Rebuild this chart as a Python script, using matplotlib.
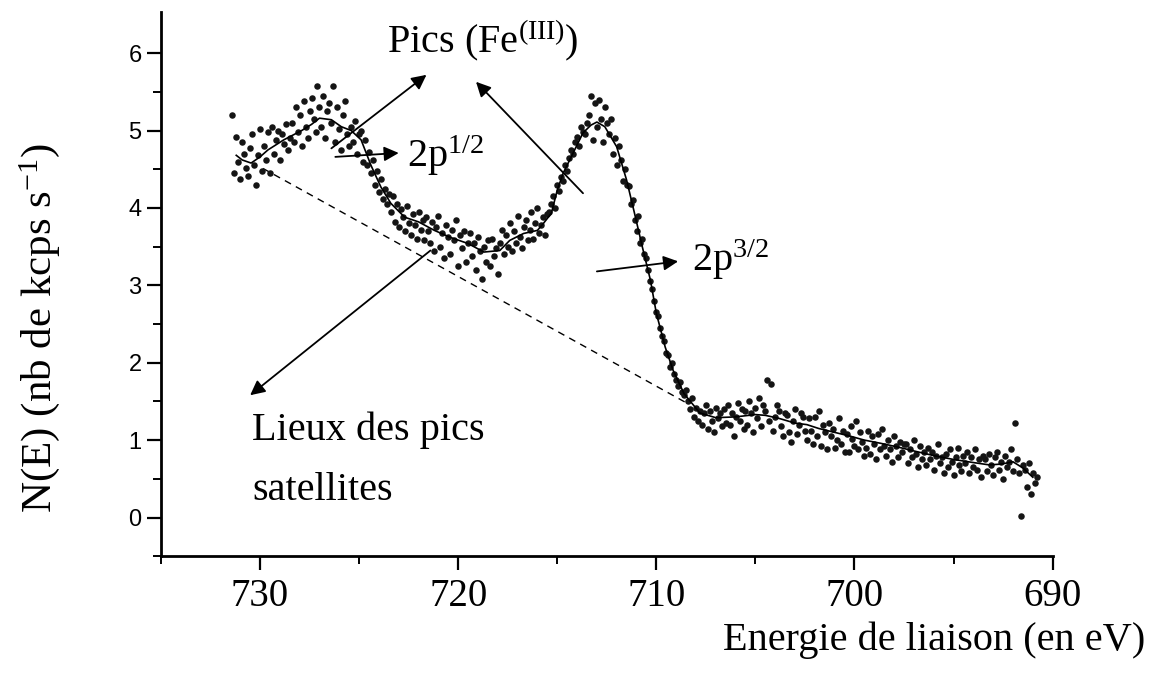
import numpy as np
import matplotlib
matplotlib.use("Agg")
import matplotlib.pyplot as plt

plt.rcParams['font.family'] = ['Liberation Serif', 'DejaVu Serif']
plt.rcParams['mathtext.default'] = 'regular'

# binding energy grid of the raw spectrum (0.1 eV step)
energy = np.round(np.linspace(731.4, 690.8, 407), 1)

# raw counts, 10 points per eV
counts = [
    5.20, 4.45, 4.92, 4.60, 4.38, 4.85, 4.70, 4.52, 4.41, 4.78,
    4.95, 4.55, 4.30, 4.68, 5.02, 4.48, 4.80, 4.62, 4.98, 4.45,
    5.05, 4.70, 4.88, 5.00, 4.62, 4.95, 4.82, 5.08, 4.75, 4.90,
    5.10, 4.85, 5.30, 4.98, 5.20, 4.80, 5.38, 5.05, 4.90, 5.25,
    5.42, 5.15, 4.98, 5.58, 5.30, 5.05, 5.45, 4.90, 5.25, 5.35,
    5.10, 5.57, 4.85, 5.30, 5.02, 4.75, 5.20, 5.38, 4.95, 4.80,
    5.05, 4.85, 5.12, 4.70, 4.95, 5.00, 4.60, 4.88, 4.55, 4.72,
    4.45, 4.62, 4.30, 4.48, 4.20, 4.38, 4.12, 4.25, 4.05, 4.18,
    3.95, 4.15, 3.82, 4.05, 3.75, 3.98, 3.88, 3.70, 4.02, 3.80,
    3.65, 3.92, 3.78, 3.60, 3.95, 3.72, 3.85, 3.58, 3.88, 3.70,
    3.55, 3.82, 3.45, 3.75, 3.90, 3.50, 3.68, 3.35, 3.78, 3.62,
    3.40, 3.72, 3.58, 3.85, 3.25, 3.65, 3.48, 3.70, 3.30, 3.55,
    3.68, 3.38, 3.55, 3.20, 3.62, 3.45, 3.08, 3.50, 3.30, 3.58,
    3.25, 3.60, 3.38, 3.48, 3.15, 3.55, 3.72, 3.40, 3.65, 3.50,
    3.80, 3.45, 3.70, 3.55, 3.90, 3.62, 3.48, 3.75, 3.85, 3.58,
    3.72, 3.95, 3.60, 3.80, 4.00, 3.68, 3.78, 3.88, 3.65, 3.92,
    3.95, 4.05, 4.15, 4.00, 4.30, 4.22, 4.40, 4.35, 4.55, 4.48,
    4.65, 4.75, 4.70, 4.85, 4.92, 4.80, 5.05, 4.98, 4.95, 5.10,
    5.20, 5.45, 4.88, 5.35, 5.05, 5.40, 5.15, 4.85, 5.30, 5.10,
    4.95, 5.15, 4.70, 4.90, 4.55, 4.80, 4.62, 4.35, 4.50, 4.30,
    4.28, 4.05, 4.10, 3.85, 3.70, 3.90, 3.55, 3.60, 3.40, 3.35,
    3.20, 3.05, 2.95, 2.80, 2.65, 2.60, 2.45, 2.35, 2.28, 2.12,
    2.10, 1.95, 2.00, 1.85, 1.78, 1.70, 1.75, 1.62, 1.58, 1.65,
    1.50, 1.40, 1.55, 1.30, 1.42, 1.25, 1.38, 1.20, 1.35, 1.45,
    1.15, 1.38, 1.25, 1.10, 1.42, 1.28, 1.35, 1.18, 1.40, 1.22,
    1.45, 1.20, 1.35, 1.05, 1.30, 1.48, 1.25, 1.40, 1.15, 1.38,
    1.20, 1.50, 1.35, 1.10, 1.42, 1.28, 1.55, 1.18, 1.45, 1.38,
    1.78, 1.25, 1.72, 1.12, 1.30, 1.45, 1.38, 1.18, 1.05, 1.35,
    1.32, 1.10, 0.98, 1.25, 1.40, 1.08, 1.20, 1.35, 1.30, 1.12,
    1.00, 1.28, 1.12, 0.95, 1.30, 1.05, 1.38, 0.92, 1.20, 1.10,
    0.88, 1.22, 1.05, 1.15, 0.90, 1.00, 1.28, 0.95, 1.12, 0.85,
    1.08, 0.85, 1.18, 1.02, 0.92, 1.25, 0.88, 1.10, 0.98, 0.80,
    0.90, 1.12, 0.82, 1.05, 0.95, 0.75, 1.08, 0.88, 1.15, 0.92,
    0.80, 1.00, 0.88, 0.72, 1.05, 0.92, 0.78, 0.98, 0.85, 0.95,
    0.95, 0.70, 0.88, 0.78, 1.00, 0.82, 0.65, 0.92, 0.75, 0.85,
    0.68, 0.90, 0.75, 0.85, 0.62, 0.80, 0.95, 0.70, 0.78, 0.58,
    0.82, 0.65, 0.88, 0.72, 0.55, 0.78, 0.90, 0.68, 0.60, 0.80,
    0.70, 0.85, 0.58, 0.78, 0.65, 0.88, 0.62, 0.75, 0.52, 0.80,
    0.75, 0.60, 0.82, 0.68, 0.55, 0.78, 0.85, 0.62, 0.72, 0.50,
    0.80, 0.65, 0.72, 0.88, 0.60, 1.22, 0.75, 0.58, 0.02, 0.68,
    0.62, 0.40, 0.70, 0.30, 0.58, 0.45, 0.52,
]

# smoothed spectrum
fit_e = [731.2, 730.9, 730.45, 730.0, 729.6, 728.8, 727.9, 727.4, 727.0, 726.4,
         725.9, 725.4, 724.9, 724.4, 723.9, 723.4, 722.7, 722.0, 721.2, 720.4,
         719.5, 718.7, 717.9, 717.4, 716.7, 716.0, 715.7, 715.3, 715.0, 714.7,
         714.2, 713.7, 713.3, 713.0, 712.6, 712.0, 711.5, 711.1, 710.7, 710.3,
         710.0, 709.55, 709.15, 708.6, 707.8, 707.0, 706.0, 705.0, 704.5, 703.8,
         703.0, 702.4, 701.8, 701.0, 700.2, 699.5, 698.7, 697.8, 697.0, 696.0,
         695.0, 694.0, 693.2, 692.6, 692.0, 691.5, 691.0]
fit_n = [4.68, 4.62, 4.58, 4.66, 4.75, 4.88, 5.00, 5.08, 5.16, 5.14,
         5.05, 5.00, 4.88, 4.55, 4.27, 4.06, 3.88, 3.82, 3.71, 3.62,
         3.54, 3.43, 3.45, 3.58, 3.67, 3.71, 3.80, 3.93, 4.23, 4.45,
         4.71, 4.97, 5.07, 5.11, 5.05, 4.79, 4.36, 3.93, 3.49, 3.07,
         2.64, 2.20, 1.90, 1.60, 1.35, 1.29, 1.30, 1.33, 1.32, 1.28,
         1.22, 1.20, 1.15, 1.10, 1.05, 1.00, 0.96, 0.91, 0.86, 0.80,
         0.75, 0.71, 0.68, 0.69, 0.72, 0.64, 0.52]

# background (dashed)
bg_e = [729.85, 708.4]
bg_n = [4.51, 1.47]

fig = plt.figure(figsize=(11.58, 6.75), dpi=100)
ax = fig.add_axes([0.139, 0.176, 0.770, 0.806])

ax.scatter(energy, counts, s=22, color='#151515', lw=0, zorder=3)
ax.plot(fit_e, fit_n, color='black', lw=1.2, zorder=4)
ax.plot(bg_e, bg_n, color='black', lw=1.0, linestyle=(0, (5, 4)))

ax.set_xlim(735, 690)
ax.set_ylim(-0.5, 6.53)

for s in ['top', 'right']:
    ax.spines[s].set_visible(False)
for s in ['left', 'bottom']:
    ax.spines[s].set_linewidth(2.0)

ax.set_xticks([730, 720, 710, 700, 690])
ax.set_xticks([735, 725, 715, 705, 695], minor=True)
ax.set_yticks(range(0, 7))
ax.set_yticks(np.arange(-0.5, 6.5, 1.0), minor=True)
ax.tick_params(which='major', direction='out', length=10, width=1.6)
ax.tick_params(which='minor', direction='out', length=6, width=1.4)
ax.tick_params(axis='x', labelsize=28, pad=6)
ax.tick_params(axis='y', labelsize=17, pad=4)
for lab in ax.get_yticklabels():
    lab.set_fontfamily('Liberation Sans')

fig.text(40 / 1158, 1 - 328 / 675, r'N(E) (nb de kcps s$^{-1}$)', rotation=90,
         ha='center', va='center', fontsize=31)
fig.text(1145 / 1158, 1 - 640 / 675, 'Energie de liaison (en eV)',
         ha='right', va='center', fontsize=29)

arrow = dict(arrowstyle='-|>', color='black', lw=1.3, mutation_scale=22,
             shrinkA=0, shrinkB=0)

ax.text(723.6, 6.0, r'Pics (Fe$^{(III)}$)', fontsize=29, ha='left', va='baseline')
ax.annotate('', xy=(721.6, 5.72), xytext=(726.4, 4.77), arrowprops=arrow)
ax.annotate('', xy=(719.1, 5.63), xytext=(713.7, 4.19), arrowprops=arrow)

ax.text(722.6, 4.53, r'2p$^{1/2}$', fontsize=29, ha='left', va='baseline')
ax.annotate('', xy=(723.0, 4.71), xytext=(726.2, 4.66), arrowprops=arrow)

ax.text(708.2, 3.18, r'2p$^{3/2}$', fontsize=29, ha='left', va='baseline')
ax.annotate('', xy=(708.9, 3.31), xytext=(713.0, 3.18), arrowprops=arrow)

ax.text(730.4, 1.0, 'Lieux des pics', fontsize=29, ha='left', va='baseline')
ax.text(730.4, 0.22, 'satellites', fontsize=29, ha='left', va='baseline')
ax.annotate('', xy=(730.5, 1.58), xytext=(721.4, 3.45), arrowprops=arrow)

fig.savefig('out.png', dpi=100)
